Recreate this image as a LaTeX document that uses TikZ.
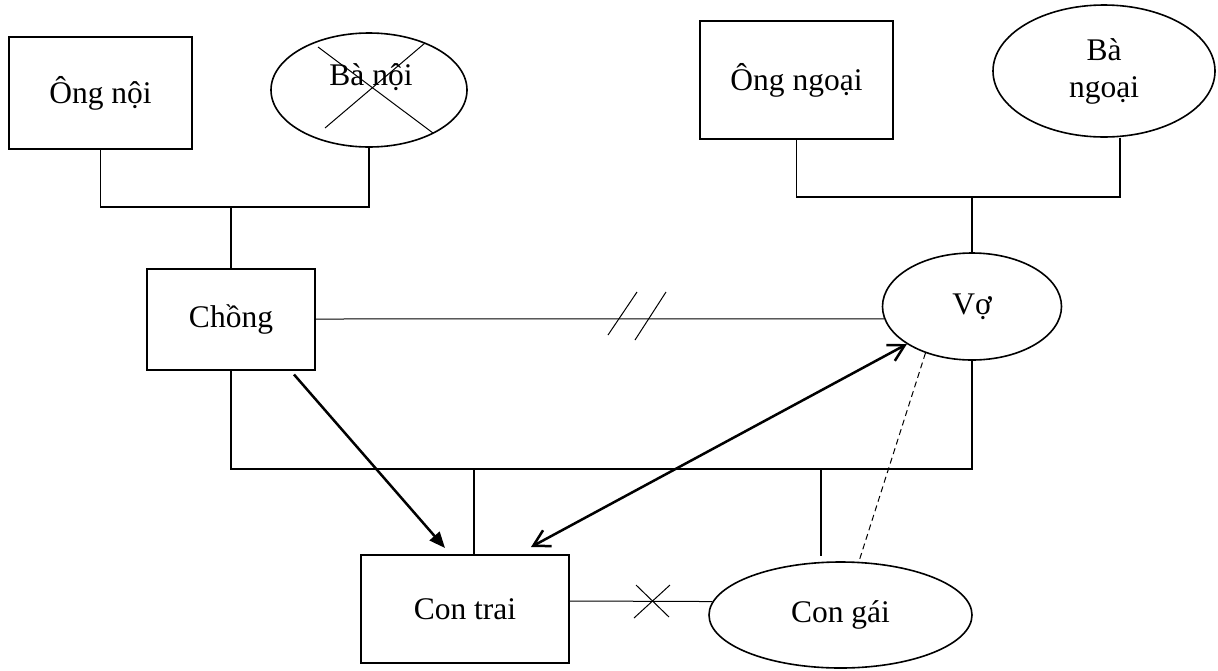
\documentclass[tikz,border=0pt]{standalone}
\usepackage{fontspec}
\setmainfont{Liberation Serif}
\usetikzlibrary{arrows.meta,shapes.geometric}

\begin{document}
\begin{tikzpicture}[x=1pt,y=-1pt,
  man/.style={draw,line width=2pt,rectangle,inner sep=0pt,font=\fontsize{31.5}{37}\selectfont},
  woman/.style={draw,line width=1.6pt,ellipse,inner sep=0pt,align=center,font=\fontsize{31.5}{37}\selectfont},
  tie/.style={line width=1.5pt},
  slimline/.style={line width=1pt},
  bond/.style={line width=2.5pt}]
\useasboundingbox (0,0) rectangle (1218,670);
\node[man,minimum width=183pt,minimum height=112pt] (ongnoi) at (100.5,93) {Ông nội};
\node[woman,minimum width=196pt,minimum height=114pt] (banoi) at (369,90) {};
\node[font=\fontsize{31.5}{37}\selectfont] (banoitxt) at (371,77) {Bà nội};
\node[man,minimum width=193pt,minimum height=118pt] (ongngoai) at (796.5,80) {Ông ngoại};
\node[woman,minimum width=222pt,minimum height=132pt] (bangoai) at (1104,71) {Bà\\ngoại};
\node[man,minimum width=168pt,minimum height=101pt] (chong) at (231,319) {Chồng};
\node[woman,minimum width=179pt,minimum height=107pt] (vo) at (972,306.5) {Vợ};
\node[man,minimum width=208pt,minimum height=108pt] (contrai) at (465,609) {Con trai};
\node[woman,minimum width=263pt,minimum height=106pt] (congai) at (840.5,615) {Con gái};
\coordinate (jnoi) at (231,206);
\coordinate (jngoai) at (972,196);
\coordinate (jtrai) at (474,468);
\coordinate (jgai) at (821,468);
\draw[slimline] (318,47) -- (433,133) (425,43) -- (325,128);
\draw[tie] (ongnoi.south) -- ++(0,57) -| (banoi.south);
\draw[tie] (jnoi) -- (chong.north);
\draw[tie] (ongngoai.south) -- ++(0,57) -| ([xshift=16pt]bangoai.south);
\draw[tie] (jngoai) -- (vo.north);
\draw[slimline] (chong.east) -- (vo.188);
\draw[slimline] (608,335) -- (637,292) (635,340) -- (666,292);
\draw[tie] (chong.south) -- ++(0,98.5) -| (vo.south);
\draw[tie] (jtrai) -- (jtrai |- contrai.north);
\draw[tie,shorten >=5pt] (jgai) -- (jgai |- congai.north);
\draw[slimline] ([yshift=8pt]contrai.east) -- (congai.174);
\draw[slimline] (634,618) -- (670,585) (636,585) -- (669,617);
\draw[bond,-{Triangle[length=16pt,width=13pt]}] ([xshift=-22pt,yshift=-4pt]chong.south east) -- ([xshift=-20pt,yshift=6pt]contrai.north);
\draw[bond,{Straight Barb[length=16pt,width=18pt]}-{Straight Barb[length=16pt,width=18pt]}] ([xshift=-39pt,yshift=7pt]contrai.north east) -- (vo.210);
\draw[slimline,dash pattern=on 6pt off 4pt] (vo.225) -- (congai.71);
\end{tikzpicture}
\end{document}
